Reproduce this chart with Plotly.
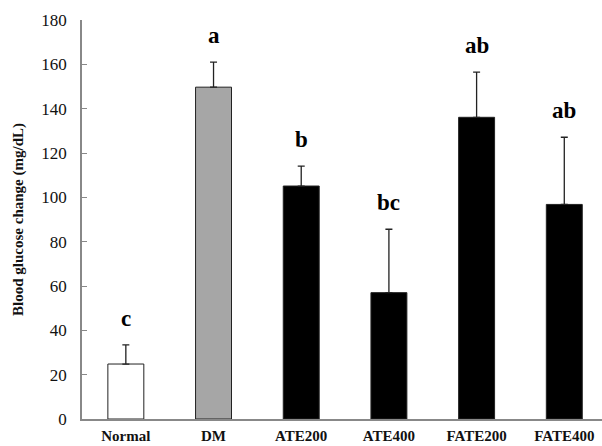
import plotly.graph_objects as go

categories = ["Normal", "DM", "ATE200", "ATE400", "FATE200", "FATE400"]
means = [24.8, 149.7, 105.1, 57.0, 136.1, 96.8]
errors = [8.6, 11.3, 9.0, 28.6, 20.4, 30.3]
letters = ["c", "a", "b", "bc", "ab", "ab"]
fill_colors = ["#FFFFFF", "#A6A6A6", "#000000", "#000000", "#000000", "#000000"]
y_ticks = [0, 20, 40, 60, 80, 100, 120, 140, 160, 180]

FONT = "Liberation Serif, Times New Roman, serif"

fig = go.Figure()
fig.add_trace(go.Bar(
    x=categories, y=means,
    marker=dict(color=fill_colors, line=dict(color="#222222", width=1)),
    width=0.41,
    error_y=dict(type="data", array=errors, arrayminus=[0]*len(errors),
                 symmetric=False, color="#222222", thickness=1.3, width=3.5),
))

for c, m, e, t in zip(categories, means, errors, letters):
    fig.add_annotation(x=c, y=m + e, text="<b>" + t + "</b>", showarrow=False,
                       yanchor="bottom", yshift=12,
                       font=dict(family=FONT, size=23, color="#000000"))

fig.update_layout(
    width=602, height=446,
    margin=dict(l=82, r=0, t=20, b=27),
    plot_bgcolor="white", paper_bgcolor="white",
    showlegend=False,
    font=dict(family=FONT, color="#111111"),
    bargap=0.6,
)
fig.update_xaxes(
    range=[-0.5, 5.43],
    showline=True, linecolor="#888888", linewidth=1.5,
    showgrid=False, ticks="", automargin=False,
    tickfont=dict(family=FONT, size=15, color="#111111"),
    ticklabelstandoff=2,
    tickprefix="<b>", ticksuffix="</b>",
)
fig.update_yaxes(
    range=[0, 180], tickvals=y_ticks,
    showline=True, linecolor="#888888", linewidth=1.5,
    showgrid=False, zeroline=False, automargin=False,
    ticks="inside", ticklen=5, tickcolor="#888888",
    tickfont=dict(family=FONT, size=17, color="#111111"),
    tickprefix="<b>", ticksuffix="</b>",
    ticklabelstandoff=10,
    title=dict(text="<b>Blood glucose change (mg/dL)</b>",
               font=dict(family=FONT, size=15, color="#111111"), standoff=14),
)

fig.write_html("out.html", config={"displayModeBar": False},
               post_script="document.body.style.margin='0';document.body.style.overflow='hidden';")
